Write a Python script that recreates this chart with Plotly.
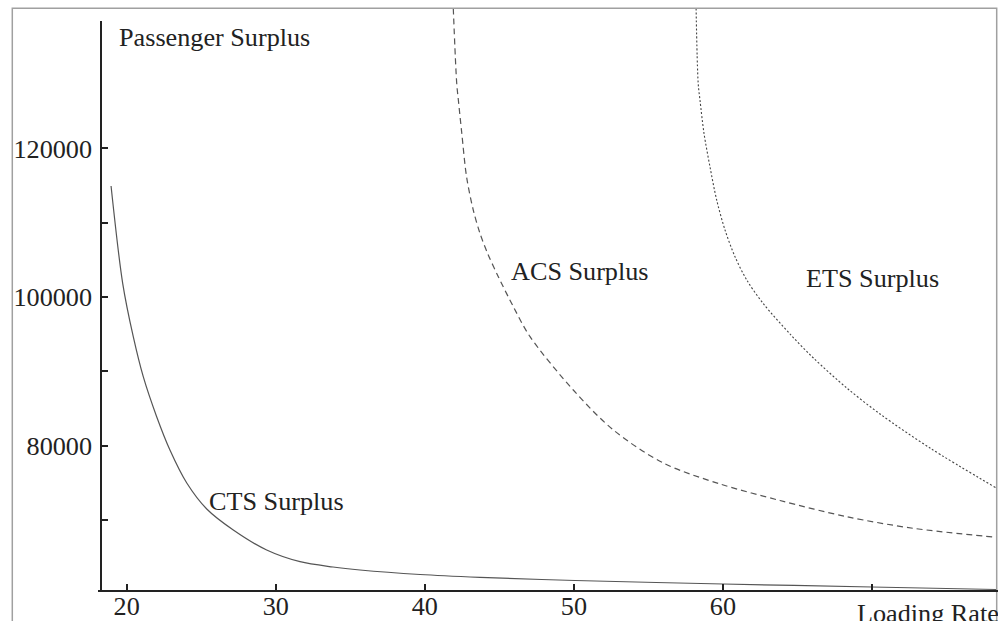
import plotly.graph_objects as go

# ---- data ----
cts_x = [18.95, 19.73, 20.44, 21.11, 22.01, 22.90, 24.03, 25.37, 27.15, 29.39, 31.63, 33.84, 35.65,
         39.68, 43.70, 50.08, 60.01, 70.00, 78.37]
cts_y = [114933, 101846, 94664, 89284, 83904, 79425, 74986, 71489, 68665, 65975, 64401, 63688, 63285,
         62680, 62303, 61873, 61402, 60998, 60662]

acs_x = [41.91, 42.14, 42.25, 42.48, 42.80, 43.25, 43.70, 44.21, 44.93, 45.94, 47.06, 49.96, 52.65,
         56.00, 59.81, 63.83, 68.31, 72.77, 78.37]
acs_y = [138834, 128746, 126500, 122021, 116184, 111705, 108571, 105881, 102734, 98699, 94664, 87495, 82115,
         77676, 74852, 72633, 70454, 68893, 67683]

ets_x = [58.20, 58.34, 58.46, 58.73, 59.13, 59.58, 60.14, 60.81, 61.60, 62.69, 64.50, 66.07, 68.31,
         70.54, 73.89, 78.37]
ets_y = [138834, 128746, 126500, 122021, 117529, 113050, 109015, 105424, 102290, 99156, 95027, 91799, 87764,
         84267, 79694, 74274]

x_tickvals = [20, 30, 40, 50, 60, 70]
x_ticktext = ["20", "30", "40", "50", "60", ""]
y_tickvals = [70000, 80000, 90000, 100000, 110000, 120000]
y_ticktext = ["", "80000", "", "100000", "", "120000"]

x_range = [18.275, 78.32]
y_range = [60460, 138740]

FONT = "Liberation Serif"
FS = 26.2
TXT = "#222222"
LINEC = "#555555"

fig = go.Figure()
fig.add_trace(go.Scatter(x=cts_x, y=cts_y, mode="lines",
                         line=dict(color=LINEC, width=1.2, shape="spline", smoothing=0.9)))
fig.add_trace(go.Scatter(x=acs_x, y=acs_y, mode="lines",
                         line=dict(color=LINEC, width=1.2, dash="6px,4px", shape="spline", smoothing=0.9)))
fig.add_trace(go.Scatter(x=ets_x, y=ets_y, mode="lines",
                         line=dict(color="#444444", width=1.1, dash="2px,2px", shape="spline", smoothing=0.9)))

W, H = 998, 621
L, R, T, B = 101, 2, 9, 30
pw, ph = W - L - R, H - T - B


def px_x(p):
    return (p - L) / pw


def px_y(p):
    return (H - B - p) / ph


fig.update_layout(
    width=W, height=H,
    margin=dict(l=L, r=R, t=T, b=B, pad=0),
    paper_bgcolor="white", plot_bgcolor="white",
    showlegend=False,
    font=dict(family=FONT, size=FS, color=TXT),
    xaxis=dict(range=x_range, showgrid=False, zeroline=False, showline=False, automargin=False,
               tickmode="array", tickvals=x_tickvals, ticktext=x_ticktext,
               ticks="inside", ticklen=7, tickwidth=1.5, tickcolor=TXT,
               tickfont=dict(family=FONT, size=FS, color=TXT), ticklabelstandoff=-3),
    yaxis=dict(range=y_range, showgrid=False, zeroline=False, showline=False, automargin=False,
               tickmode="array", tickvals=y_tickvals, ticktext=y_ticktext,
               ticks="inside", ticklen=7, tickwidth=1.5, tickcolor=TXT,
               tickfont=dict(family=FONT, size=FS, color=TXT), ticklabelstandoff=8),
)

shapes = [
    # outer frame of the picture
    dict(type="rect", xref="paper", yref="paper", x0=px_x(12.3), x1=px_x(996.7), y0=px_y(640), y1=px_y(8.3),
         line=dict(color="#a0a0a0", width=1.5), fillcolor="rgba(0,0,0,0)", layer="above"),
    # x axis line
    dict(type="line", xref="paper", yref="paper", x0=px_x(98), x1=px_x(1000), y0=0, y1=0,
         line=dict(color=TXT, width=2), layer="above"),
    # y axis line
    dict(type="line", xref="paper", yref="paper", x0=0, x1=0, y0=0, y1=px_y(21),
         line=dict(color=TXT, width=2), layer="above"),
]
fig.update_layout(shapes=shapes)


def ann(text, xl, yc):
    return dict(text=text, xref="paper", yref="paper", x=px_x(xl), y=px_y(yc), xanchor="left",
                yanchor="middle", showarrow=False, font=dict(family=FONT, size=FS, color=TXT), borderpad=0)


fig.update_layout(annotations=[
    ann("Passenger Surplus", 118, 37),
    ann("ACS Surplus", 510, 271),
    ann("ETS Surplus", 805, 278),
    ann("CTS Surplus", 208, 501),
    ann("Loading Rate", 856, 613),
])

fig.write_html("out.html", config={"displayModeBar": False},
               post_script="document.body.style.margin='0px';document.body.style.overflow='hidden';")
